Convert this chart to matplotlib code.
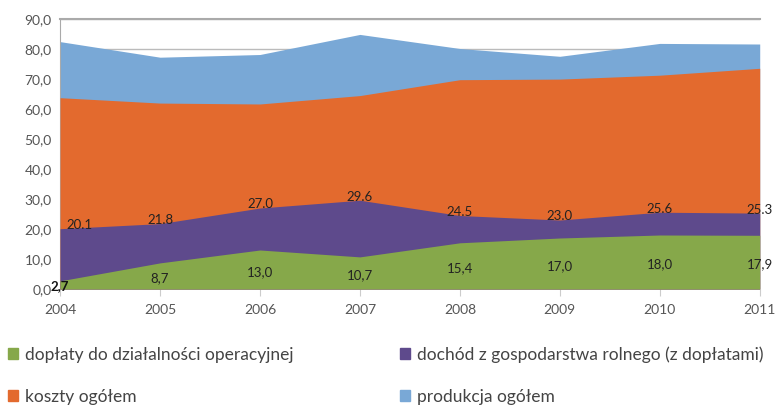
import numpy as np
import matplotlib
matplotlib.use('Agg')
import matplotlib.pyplot as plt
from matplotlib.patches import Patch

# dane
lata = [2004, 2005, 2006, 2007, 2008, 2009, 2010, 2011]
doplaty = [2.7, 8.7, 13.0, 10.7, 15.4, 17.0, 18.0, 17.9]
dochod = [20.1, 21.8, 27.0, 29.6, 24.5, 23.0, 25.6, 25.3]
koszty = [63.8, 62.0, 61.7, 64.5, 69.8, 70.0, 71.3, 73.6]
produkcja = [82.5, 77.3, 78.2, 84.9, 80.2, 77.6, 81.9, 81.7]

etykiety = ['dopłaty do działalności operacyjnej', 'dochód z gospodarstwa rolnego (z dopłatami)',
            'koszty ogółem', 'produkcja ogółem']
kolory = ['#86a84a', '#5e4a8c', '#e36a2e', '#79a8d6']

plt.rcParams['font.family'] = ['Lato', 'DejaVu Sans']

fig = plt.figure(figsize=(7.8, 4.07), dpi=100)
ax = fig.add_axes([0.077, 0.29, 0.897, 0.663])

ax.fill_between(lata, produkcja, color=kolory[3], lw=0, zorder=2)
ax.fill_between(lata, koszty, color=kolory[2], lw=0, zorder=3)
ax.fill_between(lata, dochod, color=kolory[1], lw=0, zorder=4)
ax.fill_between(lata, doplaty, color=kolory[0], lw=0, zorder=5)

# etykiety danych
for x, v in zip(lata, dochod):
    if x == 2004:
        ax.text(x + 0.06, v + 1.2, f'{v:.1f}', ha='left', va='center', fontsize=9.5,
                color='#222222', zorder=6)
    else:
        ax.text(x, v + 1.2, f'{v:.1f}', ha='center', va='center', fontsize=9.5, color='#222222', zorder=6)
for x, v in zip(lata, doplaty):
    s = f'{v:.1f}'.replace('.', ',')
    if x == 2004:
        ax.text(x - 0.1, 0.9, s, ha='left', va='center', fontsize=9.5, color='#111111',
                fontweight='bold', zorder=6)
    else:
        ax.text(x, v / 2 - 0.8, s, ha='center', va='center', fontsize=9.5, color='#222222', zorder=6)

ax.set_xlim(2004, 2011)
ax.set_ylim(0, 90)
ax.set_yticks(np.arange(0, 91, 10))
ax.set_yticklabels([f'{t:.1f}'.replace('.', ',') for t in np.arange(0, 91, 10)])
ax.set_xticks(lata)
ax.grid(axis='y', color='#bbbbbb', lw=1, zorder=1)
ax.set_axisbelow(True)

for s in ['right', 'bottom']:
    ax.spines[s].set_visible(False)
ax.spines['top'].set_color('#aaaaaa')
ax.spines['top'].set_linewidth(1.5)
ax.spines['left'].set_color('#aaaaaa')
ax.tick_params(axis='y', length=0, pad=6, labelsize=10, labelcolor='#555555')
ax.tick_params(axis='x', length=5, color='#cccccc', pad=6, labelsize=10, labelcolor='#555555')

uchwyty = [Patch(color=kolory[0]), Patch(color=kolory[2]), Patch(color=kolory[1]), Patch(color=kolory[3])]
teksty = [etykiety[0], etykiety[2], etykiety[1], etykiety[3]]
fig.legend(uchwyty, teksty, ncol=2, loc='upper left', bbox_to_anchor=(8 / 780, 1 - 346 / 407),
           frameon=False, fontsize=12.5, handlelength=0.6, handleheight=0.6, handletextpad=0.4,
           columnspacing=6.1, labelspacing=1.5, labelcolor='#444444', borderpad=0, borderaxespad=0)

plt.savefig('out.png', dpi=100)
